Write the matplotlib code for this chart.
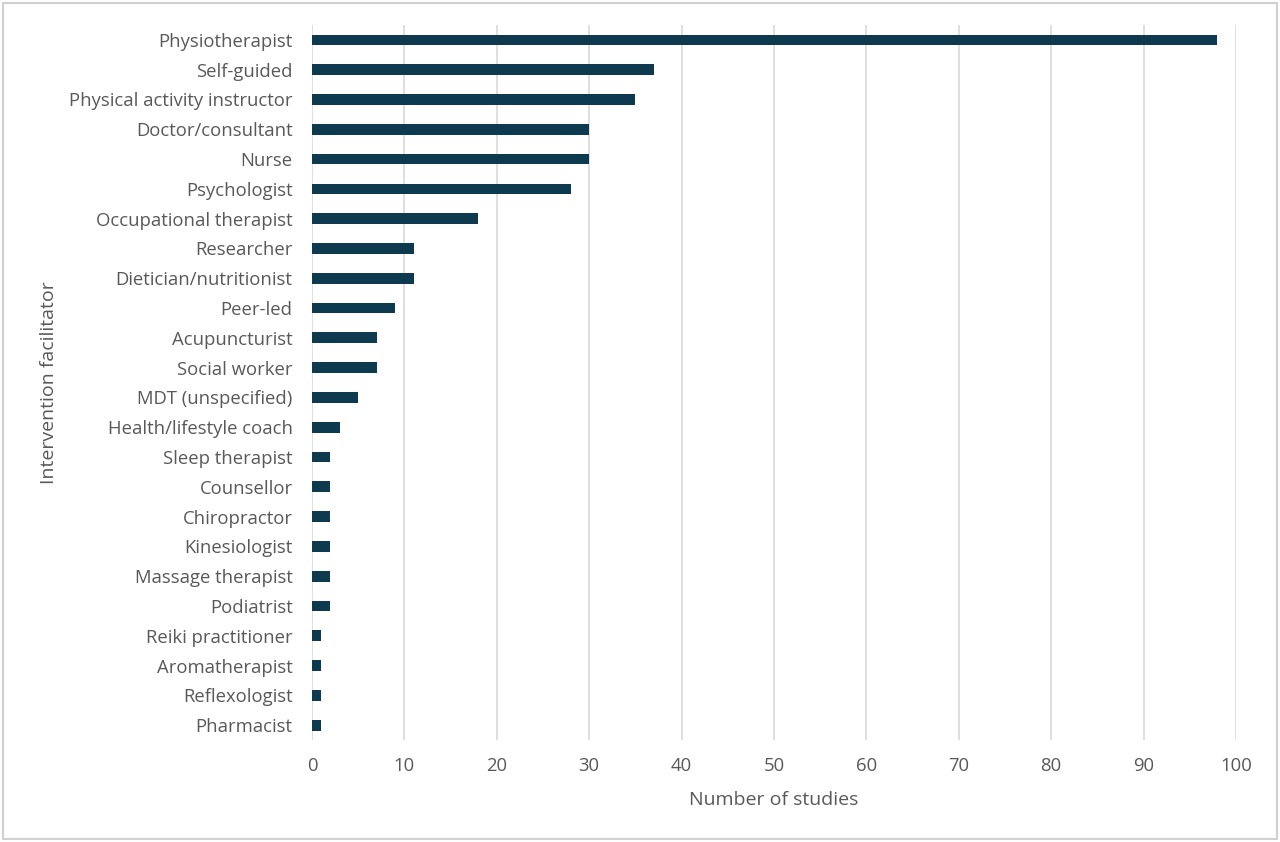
import matplotlib
matplotlib.use("Agg")
import matplotlib.pyplot as plt
from matplotlib.patches import Rectangle

facilitators = ["Physiotherapist", "Self-guided", "Physical activity instructor",
                "Doctor/consultant", "Nurse", "Psychologist", "Occupational therapist",
                "Researcher", "Dietician/nutritionist", "Peer-led", "Acupuncturist",
                "Social worker", "MDT (unspecified)", "Health/lifestyle coach",
                "Sleep therapist", "Counsellor", "Chiropractor", "Kinesiologist",
                "Massage therapist", "Podiatrist", "Reiki practitioner",
                "Aromatherapist", "Reflexologist", "Pharmacist"]
n_studies = [98, 37, 35, 30, 30, 28, 18, 11, 11, 9, 7, 7, 5, 3,
             2, 2, 2, 2, 2, 2, 1, 1, 1, 1]

plt.rcParams['font.family'] = ['Open Sans', 'DejaVu Sans']
txt = '#595959'

fig = plt.figure(figsize=(12.8, 8.42), dpi=100)
ax = fig.add_axes([0.24375, 0.1211, 0.9656 - 0.24375, 0.9703 - 0.1211])

pos = list(range(len(facilitators)))
ax.barh(pos, n_studies, height=0.36, color='#0e3a4f', zorder=3)

ax.set_xlim(0, 100)
ax.set_ylim(len(facilitators) - 0.5, -0.5)
ax.set_xticks(range(0, 101, 10))
ax.set_yticks(pos)
ax.set_yticklabels(facilitators)
ax.grid(axis='x', color='#d9d9d9', linewidth=1.2, zorder=0)
for s in ['top', 'right', 'bottom', 'left']:
    ax.spines[s].set_visible(False)
ax.tick_params(axis='both', length=0, labelsize=13.3, colors=txt)
ax.tick_params(axis='x', pad=12)
ax.tick_params(axis='y', pad=14)

ax.set_xlabel('Number of studies', fontsize=14, color=txt, labelpad=12)
ax.set_ylabel('Intervention facilitator', fontsize=14, color=txt, labelpad=8)

# light frame around the chart area
fig.patches.append(Rectangle((0.002, 0.003), 0.996, 0.994, transform=fig.transFigure,
                             fill=False, edgecolor='#d0d0d0', linewidth=1.5))

fig.savefig('out.png', dpi=100)
